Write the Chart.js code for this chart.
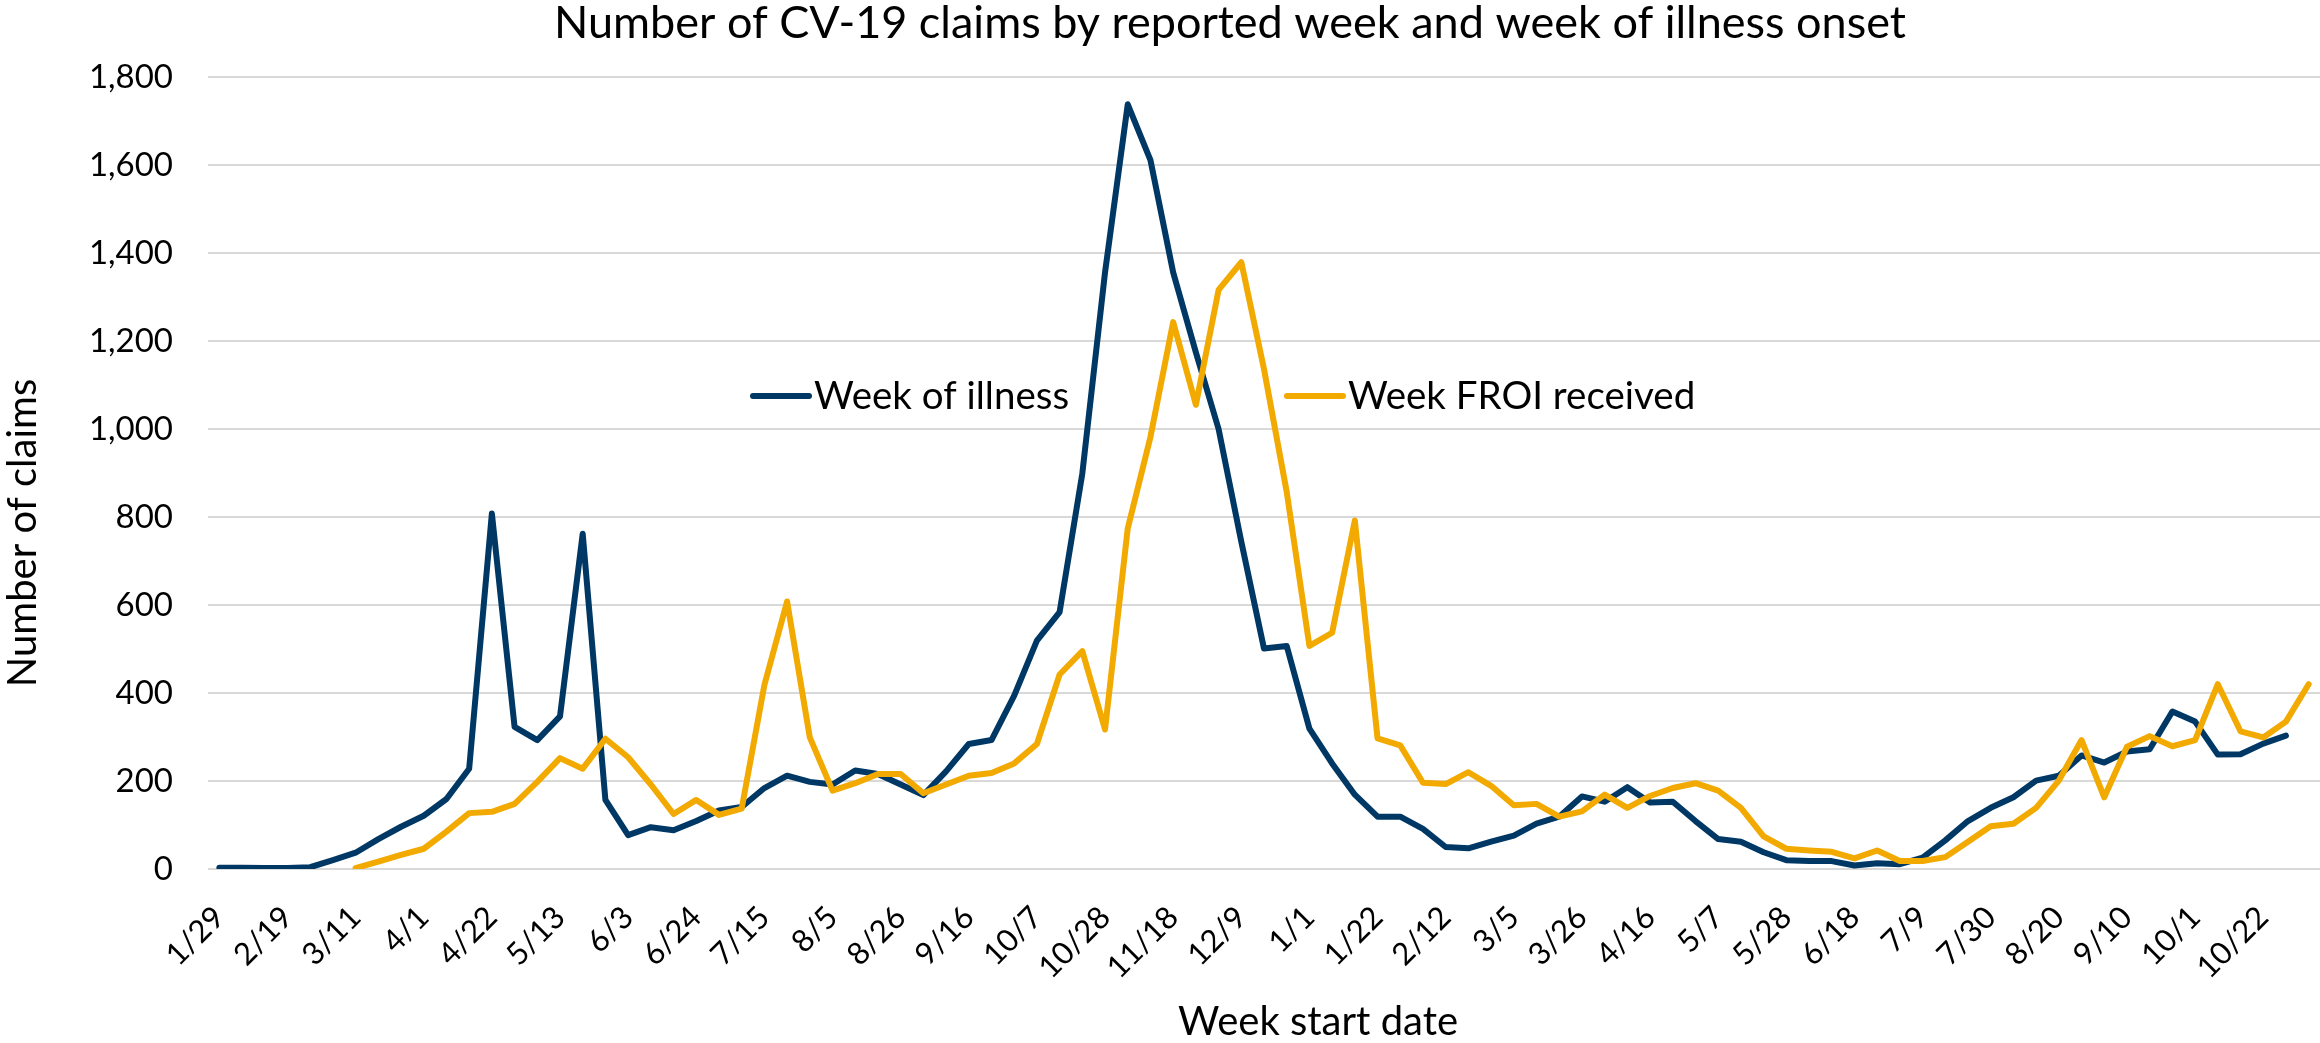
<!DOCTYPE html>
<html>
<head>
<meta charset="utf-8">
<title>CV-19 claims by week</title>
<script src="https://cdn.jsdelivr.net/npm/chart.js@4.4.1/dist/chart.umd.min.js"></script>
<style>
  html, body { margin: 0; padding: 0; background: #fff; }
  #chart-wrap { position: relative; width: 2320px; height: 1043px; }
</style>
</head>
<body>
<div id="chart-wrap"><canvas id="claimsChart"></canvas></div>
<script>
    // Week start dates (every 3rd one is shown on the axis)
    const weekLabels = [
        '1/29', '2/5', '2/12', '2/19', '2/26', '3/4', '3/11', '3/18', '3/25', '4/1',
        '4/8', '4/15', '4/22', '4/29', '5/6', '5/13', '5/20', '5/27', '6/3', '6/10',
        '6/17', '6/24', '7/1', '7/8', '7/15', '7/22', '7/29', '8/5', '8/12', '8/19',
        '8/26', '9/2', '9/9', '9/16', '9/23', '9/30', '10/7', '10/14', '10/21', '10/28',
        '11/4', '11/11', '11/18', '11/25', '12/2', '12/9', '12/16', '12/23', '1/1', '1/8',
        '1/15', '1/22', '1/29', '2/5', '2/12', '2/19', '2/26', '3/5', '3/12', '3/19',
        '3/26', '4/2', '4/9', '4/16', '4/23', '4/30', '5/7', '5/14', '5/21', '5/28',
        '6/4', '6/11', '6/18', '6/25', '7/2', '7/9', '7/16', '7/23', '7/30', '8/6',
        '8/13', '8/20', '8/27', '9/3', '9/10', '9/17', '9/24', '10/1', '10/8', '10/15',
        '10/22', '10/29', '11/5'
    ];

    const weekOfIllness = [
        3, 3, 2, 2, 4, 20, 37, 68, 96, 121,
        159, 228, 808, 323, 293, 347, 762, 157, 77, 95,
        88, 109, 133, 141, 184, 212, 198, 192, 224, 216,
        192, 168, 222, 284, 293, 394, 519, 584, 899, 1356,
        1738, 1611, 1356, 1174, 1000, 744, 501, 507, 319, 240,
        169, 119, 119, 91, 50, 47, 62, 76, 103, 119,
        165, 153, 186, 151, 153, 109, 68, 62, 38, 20,
        18, 18, 8, 13, 11, 26, 65, 109, 139, 163,
        201, 212, 258, 242, 267, 272, 358, 335, 260, 261,
        285, 303
    ];

    const weekFroiReceived = [
        null, null, null, null, null, null, 2, 17, 32, 46,
        85, 127, 130, 148, 198, 252, 228, 296, 254, 192,
        125, 157, 123, 137, 418, 608, 299, 178, 195, 216,
        216, 172, 192, 212, 218, 240, 284, 442, 495, 317,
        774, 982, 1243, 1055, 1316, 1379, 1136, 857, 507, 537,
        792, 297, 281, 196, 193, 220, 189, 145, 148, 119,
        131, 169, 139, 166, 184, 195, 178, 139, 74, 46,
        42, 39, 24, 42, 18, 18, 27, 62, 97, 103,
        139, 201, 293, 163, 278, 302, 279, 293, 420, 313,
        299, 335, 420
    ];

    const chartTitle = 'Number of CV-19 claims by reported week and week of illness onset';
    const xAxisTitle = 'Week start date';
    const yAxisTitle = 'Number of claims';

    const NAVY = '#003865';
    const GOLD = '#F2A900';
    const FONT = 'Lato, "Open Sans", sans-serif';

    // titles and the in-plot legend, placed like the Excel original
    const textLayer = {
        id: 'textLayer',
        afterDraw(chart) {
            const ctx = chart.ctx;
            ctx.save();
            ctx.fillStyle = '#000';
            ctx.textBaseline = 'alphabetic';

            ctx.textAlign = 'center';
            ctx.font = `45px ${FONT}`;
            ctx.fillText(chartTitle, 1230, 38);

            ctx.font = `40px ${FONT}`;
            ctx.fillText(xAxisTitle, 1318, 1035);

            ctx.save();
            ctx.translate(36, 533);
            ctx.rotate(-Math.PI / 2);
            ctx.font = `40px ${FONT}`;
            ctx.fillText(yAxisTitle, 0, 0);
            ctx.restore();

            // legend
            const items = [
                { x: 753, color: NAVY, label: chart.data.datasets[0].label },
                { x: 1287, color: GOLD, label: chart.data.datasets[1].label }
            ];
            ctx.textAlign = 'left';
            ctx.font = `38.5px ${FONT}`;
            ctx.lineWidth = 6;
            ctx.lineCap = 'round';
            items.forEach(it => {
                ctx.strokeStyle = it.color;
                ctx.beginPath();
                ctx.moveTo(it.x, 396);
                ctx.lineTo(it.x + 56, 396);
                ctx.stroke();
                ctx.fillText(it.label, it.x + 61, 409);
            });
            ctx.restore();
        }
    };

    const ctx = document.getElementById('claimsChart').getContext('2d');

    new Chart(ctx, {
        type: 'line',
        data: {
            labels: weekLabels,
            datasets: [{
                    label: 'Week of illness',
                    data: weekOfIllness,
                    borderColor: NAVY,
                    backgroundColor: NAVY,
                    borderWidth: 6,
                    order: 1
                },
                {
                    label: 'Week FROI received',
                    data: weekFroiReceived,
                    borderColor: GOLD,
                    backgroundColor: GOLD,
                    borderWidth: 6,
                    order: 0
                }
            ]
        },
        options: {
            responsive: true,
            maintainAspectRatio: false,
            animation: false,
            devicePixelRatio: 1,
            locale: 'en-US',
            layout: {
                padding: { top: 77, left: 0, right: 0, bottom: 0 }
            },
            elements: {
                point: { radius: 0, hoverRadius: 0 },
                line: {
                    tension: 0,
                    fill: false,
                    borderCapStyle: 'round',
                    borderJoinStyle: 'round'
                }
            },
            plugins: {
                legend: { display: false },
                title: { display: false },
                tooltip: { enabled: false }
            },
            scales: {
                x: {
                    type: 'category',
                    offset: true,
                    grid: { display: false },
                    border: { display: false },
                    ticks: {
                        autoSkip: false,
                        minRotation: 45,
                        maxRotation: 45,
                        padding: 22,
                        color: '#000',
                        font: { family: FONT, size: 31 },
                        callback: (value, index) => index % 3 === 0 ? weekLabels[index] : ''
                    },
                    afterFit(scale) {
                        scale.height = 174;
                        scale.paddingLeft = 0;
                        scale.paddingRight = 0;
                    }
                },
                y: {
                    min: 0,
                    max: 1800,
                    grid: {
                        color: '#D9D9D9',
                        lineWidth: 2,
                        drawTicks: false
                    },
                    border: { display: false },
                    ticks: {
                        stepSize: 200,
                        padding: 35,
                        color: '#000',
                        font: { family: FONT, size: 33 },
                        callback: v => v.toLocaleString('en-US')
                    },
                    afterFit(scale) {
                        scale.width = 208;
                    }
                }
            }
        },
        plugins: [textLayer]
    });
</script>
</body>
</html>
